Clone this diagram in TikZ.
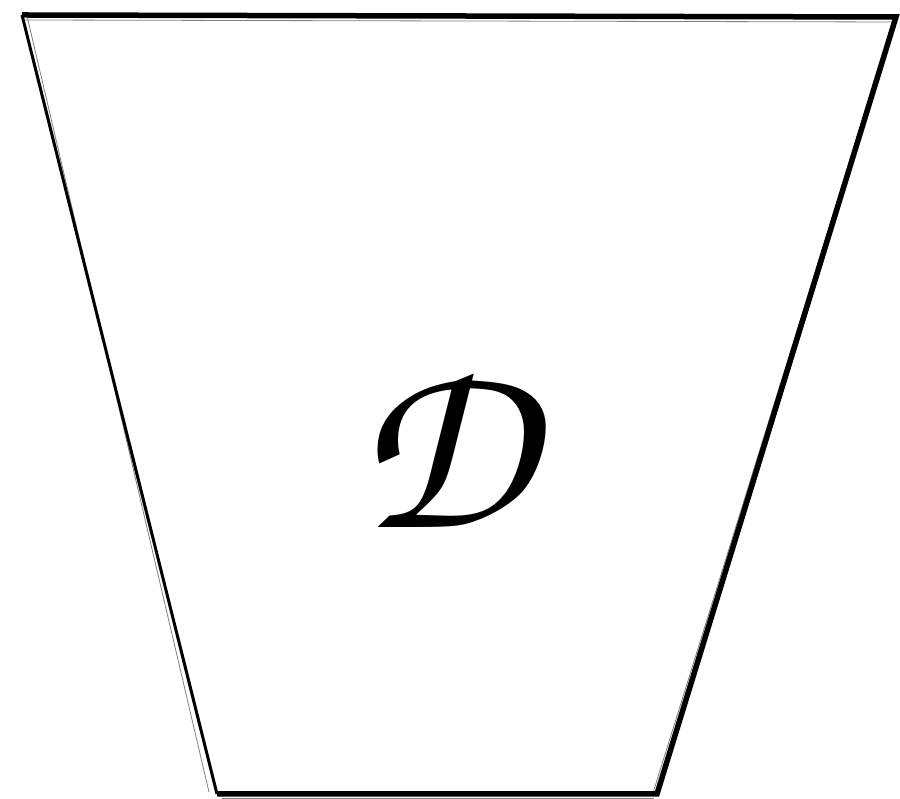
\documentclass[tikz,border=0pt]{standalone}
\usepackage[T1]{fontenc}
\tikzset{
  edge/.style={line width=5.5pt, line join=miter, black},
  sketch/.style={line width=0.8pt, black, opacity=0.5},
  lbl/.style={inner sep=0pt, font=\fontfamily{pzc}\fontshape{it}\fontseries{m}\fontsize{250}{250}\selectfont}
}
\begin{document}
\begin{tikzpicture}[x=1pt,y=1pt]
\useasboundingbox (0,0) rectangle (900,799);
\coordinate (tl) at (22,784);
\coordinate (tr) at (896,782);
\coordinate (br) at (657,5);
\coordinate (bl) at (217,5);
\draw[edge] (tl) -- (tr) -- (br) -- (bl);
\draw[line width=3pt] (bl) -- (tl);
\draw[sketch] ([shift={(1,-5)}]tl) -- ([shift={(-3,-5)}]tr) -- ([shift={(-4,1)}]br);
\draw[sketch] ([shift={(5,-1)}]tl) -- ([shift={(-8,2)}]bl);
\draw[sketch] ([shift={(5,-4)}]bl) -- ([shift={(-3,-4)}]br);
\node[lbl] (D) at (444,352) {D};
\end{tikzpicture}
\end{document}
